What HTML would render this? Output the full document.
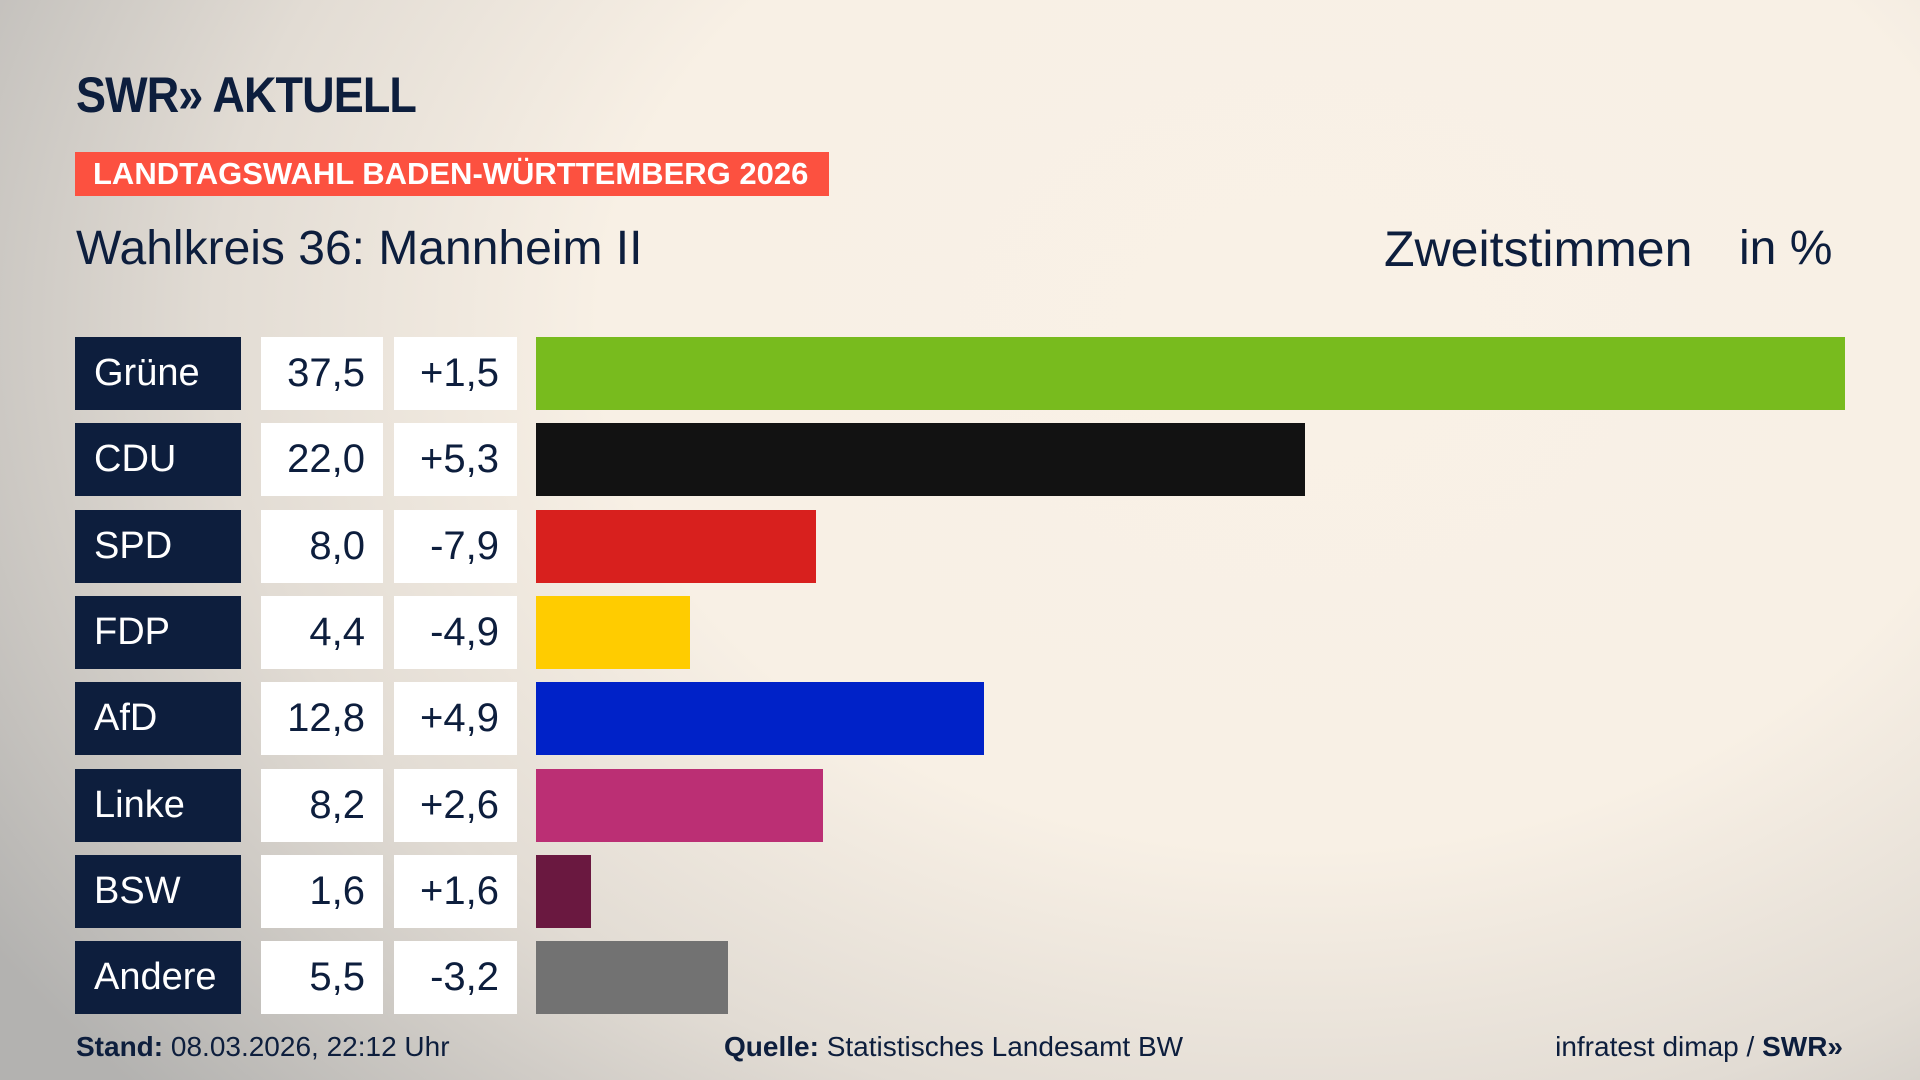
<!DOCTYPE html>
<html><head><meta charset="utf-8"><style>
*{margin:0;padding:0;box-sizing:border-box}
body{width:1920px;height:1080px;overflow:hidden;position:relative;font-family:"Liberation Sans Narrow","Liberation Sans",sans-serif;color:#0d1e3d;
background:radial-gradient(ellipse 1550px 1150px at 1300px 330px,#f9f1e6 0%,#f8f0e5 45%,#e2dcd4 70%,#b3b2b0 100%);}
.abs{position:absolute}
.logo{left:76px;top:66px;font-size:50px;font-weight:bold;letter-spacing:-1px;font-family:"Liberation Sans",sans-serif;color:#0d1e3d;transform:scaleX(0.9);transform-origin:left top}
.banner{left:75px;top:152px;width:754px;height:44px;background:#fc5140;color:#fff;font-weight:bold;font-size:31px;line-height:44px;padding-left:18px;white-space:nowrap}
.title{top:222px;font-size:48px;line-height:54px;white-space:nowrap}
.row{position:absolute;height:73px;left:0;width:1920px}
.nm{position:absolute;left:75px;width:166px;height:73px;background:#0d1e3d;color:#fff;font-size:38px;line-height:73px;padding-left:19px}
.v{position:absolute;left:261px;width:122px;height:73px;background:#fff;font-size:40px;line-height:73px;text-align:right;padding-right:18px}
.d{position:absolute;left:394px;width:123px;height:73px;background:#fff;font-size:40px;line-height:73px;text-align:right;padding-right:18px}
.b{position:absolute;left:536px;height:73px}
.foot{top:1030px;font-size:28px;line-height:34px;white-space:nowrap}
</style></head><body>
<div class="abs logo">SWR» AKTUELL</div>
<div class="abs banner">LANDTAGSWAHL BADEN-WÜRTTEMBERG 2026</div>
<div class="abs title" style="left:76px">Wahlkreis 36: Mannheim II</div>
<div class="abs title" style="left:1384px;font-size:50px">Zweitstimmen</div>
<div class="abs title" style="left:1739px">in %</div>

<div class="row" style="top:337px"><div class="nm">Grüne</div><div class="v">37,5</div><div class="d">+1,5</div><div class="b" style="width:1309px;background:#78bb1e"></div></div>
<div class="row" style="top:423px"><div class="nm">CDU</div><div class="v">22,0</div><div class="d">+5,3</div><div class="b" style="width:769px;background:#121212"></div></div>
<div class="row" style="top:510px"><div class="nm">SPD</div><div class="v">8,0</div><div class="d">-7,9</div><div class="b" style="width:280px;background:#d8201e"></div></div>
<div class="row" style="top:596px"><div class="nm">FDP</div><div class="v">4,4</div><div class="d">-4,9</div><div class="b" style="width:154px;background:#ffcc00"></div></div>
<div class="row" style="top:682px"><div class="nm">AfD</div><div class="v">12,8</div><div class="d">+4,9</div><div class="b" style="width:448px;background:#0022c8"></div></div>
<div class="row" style="top:769px"><div class="nm">Linke</div><div class="v">8,2</div><div class="d">+2,6</div><div class="b" style="width:287px;background:#bb2f74"></div></div>
<div class="row" style="top:855px"><div class="nm">BSW</div><div class="v">1,6</div><div class="d">+1,6</div><div class="b" style="width:55px;background:#6a1840"></div></div>
<div class="row" style="top:941px"><div class="nm">Andere</div><div class="v">5,5</div><div class="d">-3,2</div><div class="b" style="width:192px;background:#727272"></div></div>

<div class="abs foot" style="left:76px"><b>Stand:</b> 08.03.2026, 22:12 Uhr</div>
<div class="abs foot" style="left:724px"><b>Quelle:</b> Statistisches Landesamt BW</div>
<div class="abs foot" style="right:77px">infratest dimap / <b>SWR»</b></div>
</body></html>
